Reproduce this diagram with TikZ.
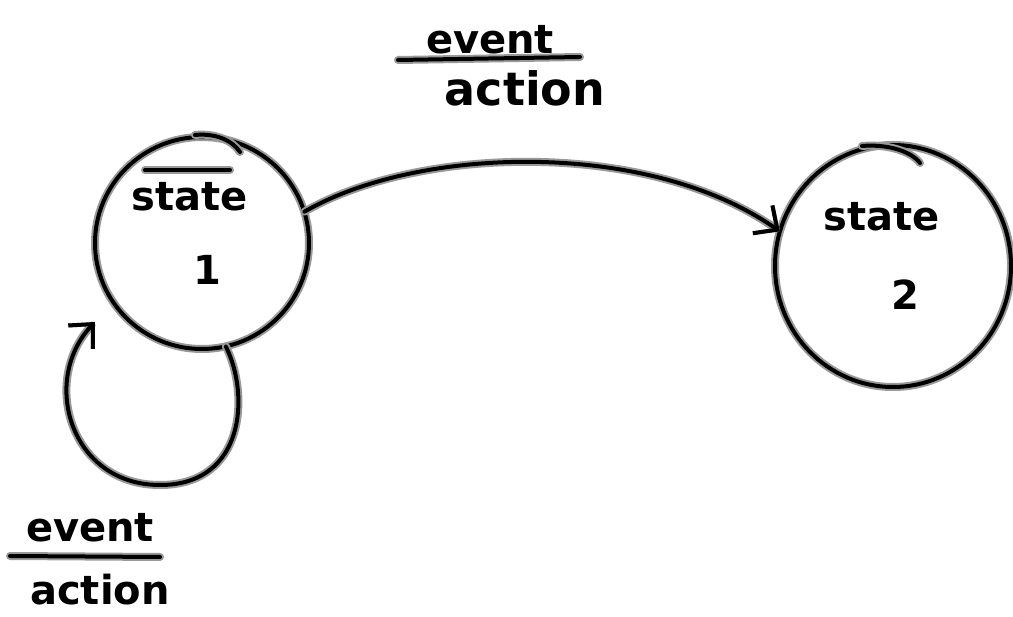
\documentclass[tikz,border=0pt]{standalone}
\usepackage{fontspec}
\setmainfont{DejaVu Sans}
\usetikzlibrary{shapes.geometric,arrows.meta}
\tikzset{
  halo/.style={line width=8pt, black!40, line cap=round, line join=round},
  ink/.style={line width=4pt, black, line cap=round, line join=round,
    preaction={draw, halo}},
  statebox/.style={ellipse, inner sep=0pt, draw=none},
  hand/.style={font=\bfseries\fontsize{40}{44}\selectfont, inner sep=0pt, anchor=center},
  arr/.style={ink, -{Straight Barb[length=18pt,width=34pt,line width=4pt]}},
}
\begin{document}
\begin{tikzpicture}[x=1pt,y=-1pt]
\useasboundingbox (0,0) rectangle (1013,617);
% states
\node[statebox, minimum width=214pt, minimum height=212pt] (s1) at (202,243) {};
\node[statebox, minimum width=236pt, minimum height=242pt] (s2) at (893,266) {};
\draw[ink] (s1.center) ellipse [x radius=107, y radius=106];
\draw[ink] (s2.center) ellipse [x radius=118, y radius=121];
% overlapping pen strokes at the tops of the circles
\draw[ink] (195,135) .. controls (215,133) and (232,140) .. (240,152);
\draw[ink] (862,146) .. controls (885,144) and (910,150) .. (920,163);
% state labels
\draw[ink] (145,170) -- (230,170);
\node[hand] (t1) at (190,197) {state};
\node[hand] (n1) at (207,270) {1};
\node[hand] (t2) at (882,217) {state};
\node[hand] (n2) at (905,295) {2};
% transition
\draw[arr] (s1.17) .. controls (420,145) and (650,140) .. (s2.163);
\node[hand] (e1) at (490,40) {event};
\coordinate (l1a) at (398,60);
\coordinate (l1b) at (580,57);
\draw[ink] (l1a) -- (l1b);
\node[hand, font=\bfseries\fontsize{46}{50}\selectfont] (a1) at (525,88) {action};
% self-loop
\coordinate (lt) at (95,322);
\draw[arr] (s1.-77) .. controls (250,395) and (245,485) .. (160,485)
  .. controls (70,485) and (40,380) .. (lt);
\node[hand] (e2) at (90,528) {event};
\coordinate (l2a) at (10,556);
\coordinate (l2b) at (160,557);
\draw[ink] (l2a) -- (l2b);
\node[hand] (a2) at (100,590) {action};
\end{tikzpicture}
\end{document}
